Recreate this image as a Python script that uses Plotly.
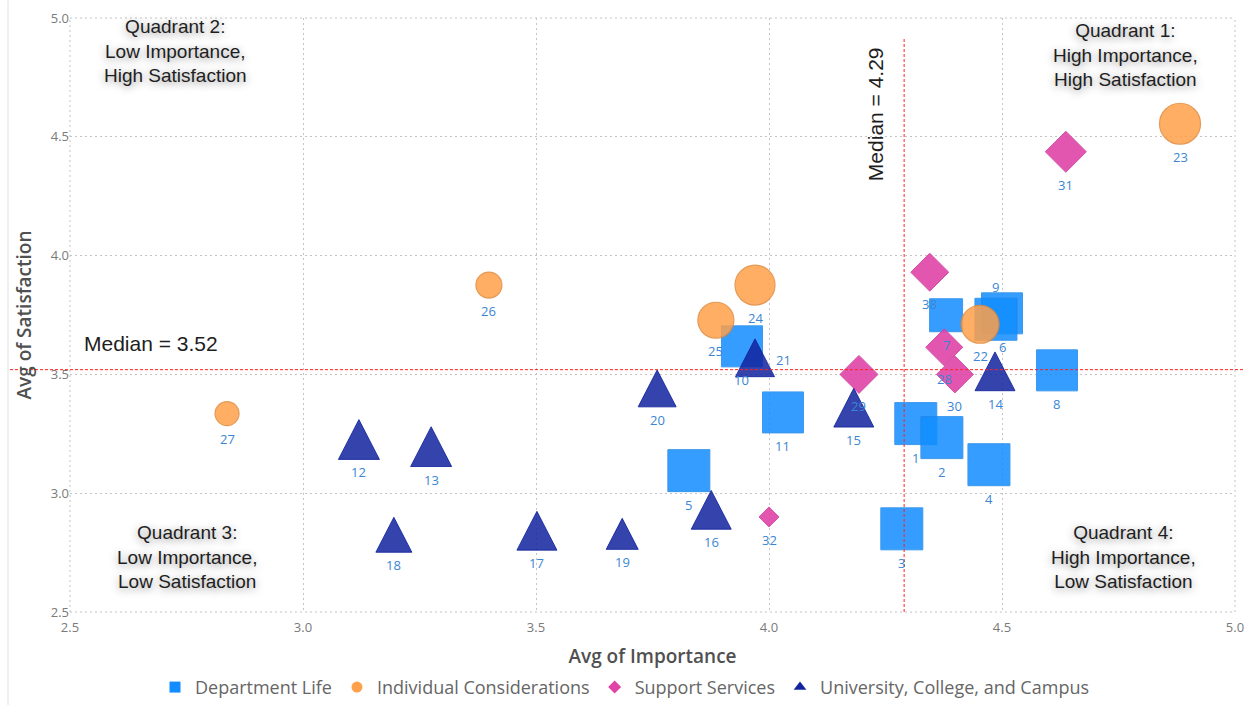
import plotly.graph_objects as go

# ---- survey items: average importance vs. average satisfaction ----
dept_ids = [1, 2, 3, 4, 5, 6, 7, 8, 9, 10, 11]
dept_imp = [4.315, 4.371, 4.285, 4.472, 3.828, 4.500, 4.380, 4.618, 4.487, 3.942, 4.030]
dept_sat = [3.293, 3.234, 2.850, 3.120, 3.095, 3.757, 3.749, 3.517, 3.732, 3.618, 3.340]

indiv_ids = [22, 23, 24, 25, 26, 27]
indiv_imp = [4.453, 4.882, 3.970, 3.886, 3.399, 2.837]
indiv_sat = [3.711, 4.555, 3.876, 3.728, 3.876, 3.335]

supp_ids = [28, 29, 30, 31, 32, 38]
supp_imp = [4.376, 4.193, 4.399, 4.637, 4.000, 4.345]
supp_sat = [3.614, 3.500, 3.500, 4.437, 2.900, 3.930]

univ_ids = [12, 13, 14, 15, 16, 17, 18, 19, 20, 21]
univ_imp = [3.120, 3.275, 4.485, 4.182, 3.876, 3.502, 3.195, 3.685, 3.760, 3.970]
univ_sat = [3.226, 3.196, 3.513, 3.360, 2.930, 2.842, 2.825, 2.829, 3.441, 3.570]

categories = ["Department Life", "Individual Considerations",
              "Support Services", "University, College, and Campus"]

median_importance = 4.29
median_satisfaction = 3.52

x_ticks = [2.5, 3.0, 3.5, 4.0, 4.5, 5.0]
y_ticks = [2.5, 3.0, 3.5, 4.0, 4.5, 5.0]

# ---- styling (marker sizes in screen pixels, colors, layout) ----
dept_px = [42, 42, 42, 42, 42, 41, 33, 41, 42, 41, 41]
indiv_px = [38, 41, 40, 36, 26, 24]
supp_px = [37, 38, 37, 41, 20, 38]          # diamond width
univ_px = [41, 41, 40, 40, 40, 40, 36, 32, 38, 39]

colors = {
    "Department Life": "#118DFF",
    "Individual Considerations": "#FFA04A",
    "Support Services": "#E044A7",
    "University, College, and Campus": "#12239E",
}
symbols = {
    "Department Life": "square",
    "Individual Considerations": "circle",
    "Support Services": "diamond",
    "University, College, and Campus": "triangle-up",
}

W, H = 1250, 705
M_L, M_R, M_T, M_B = 70, 15, 18, 93
X_RANGE = [2.5, 5.0]
Y_RANGE = [2.5, 5.0]
px_per_x = (W - M_L - M_R) / (X_RANGE[1] - X_RANGE[0])
px_per_y = (H - M_T - M_B) / (Y_RANGE[1] - Y_RANGE[0])

UI_FONT = "Segoe UI, Open Sans, sans-serif"
LABEL_COLOR = "#3A86D4"
GRID_COLOR = "#C4C4C4"
GRID_DASH = "2px,3px"

fig = go.Figure()

# squares
fig.add_trace(go.Scatter(
    x=dept_imp, y=dept_sat, mode="markers", showlegend=False,
    marker=dict(symbol="square", size=dept_px, color=colors[categories[0]],
                opacity=0.85, line=dict(color="#1C86E8", width=1)),
    hoverinfo="skip"))

# circles
fig.add_trace(go.Scatter(
    x=indiv_imp, y=indiv_sat, mode="markers", showlegend=False,
    marker=dict(symbol="circle", size=indiv_px, color=colors[categories[1]],
                opacity=0.85, line=dict(color="#E0893A", width=1.2)),
    hoverinfo="skip"))

# diamonds (plotly diamond width = 1.3 * size)
fig.add_trace(go.Scatter(
    x=supp_imp, y=supp_sat, mode="markers", showlegend=False,
    marker=dict(symbol="diamond", size=[w / 1.3 for w in supp_px],
                color=colors[categories[2]], opacity=0.9,
                line=dict(color="#D040A0", width=1)),
    hoverinfo="skip"))

# triangles drawn as filled polygons so that height ~ width
tx, ty = [], []
for xi, yi, s in zip(univ_imp, univ_sat, univ_px):
    hw = s / 2 / px_per_x
    hh = s * 0.97 / 2 / px_per_y
    tx += [xi - hw, xi + hw, xi, xi - hw, None]
    ty += [yi - hh, yi - hh, yi + hh, yi - hh, None]
fig.add_trace(go.Scatter(
    x=tx, y=ty, mode="lines", fill="toself", showlegend=False,
    fillcolor="rgba(18,35,158,0.85)",
    line=dict(color="rgba(18,35,158,0.85)", width=1), hoverinfo="skip"))

# legend entries
for cat in categories:
    fig.add_trace(go.Scatter(
        x=[None], y=[None], mode="markers", name=cat,
        marker=dict(symbol=symbols[cat], size=11 if cat != categories[2] else 10,
                    color=colors[cat])))

annotations = []

# data labels (below each mark, except where they would collide)
def add_labels(ids, xs, ys, half_heights):
    for i, xv, yv, hh in zip(ids, xs, ys, half_heights):
        xshift, yshift = 0, -(hh + 13)
        if i == 9:
            yshift = hh + 11
        if i == 21:
            xshift, yshift = 28, -2
        annotations.append(dict(
            x=xv, y=yv, text=str(i), showarrow=False, xshift=xshift, yshift=yshift,
            xanchor="center", yanchor="middle",
            font=dict(family=UI_FONT, size=13, color=LABEL_COLOR)))

add_labels(dept_ids, dept_imp, dept_sat, [s / 2 for s in dept_px])
add_labels(indiv_ids, indiv_imp, indiv_sat, [s / 2 for s in indiv_px])
add_labels(supp_ids, supp_imp, supp_sat, [s / 2 for s in supp_px])
add_labels(univ_ids, univ_imp, univ_sat, [s * 0.97 / 2 for s in univ_px])

# quadrant captions
quad_font = dict(family="Liberation Sans, Arial, sans-serif", size=19, color="#1E1E1E",
                 shadow="0px 2px 8px rgba(0,0,0,0.45)")
quadrants = [
    (2.727, 4.861, "Quadrant 2:<br>Low Importance,<br>High Satisfaction"),
    (4.764, 4.844, "Quadrant 1:<br>High Importance,<br>High Satisfaction"),
    (2.751, 2.731, "Quadrant 3:<br>Low Importance,<br>Low Satisfaction"),
    (4.760, 2.731, "Quadrant 4:<br>High Importance,<br>Low Satisfaction"),
]
for qx, qy, qt in quadrants:
    annotations.append(dict(x=qx, y=qy, text=qt, showarrow=False, align="center",
                            xanchor="center", yanchor="middle", font=quad_font))

median_font = dict(family="Liberation Sans, Arial, sans-serif", size=21, color="#1E1E1E")
annotations.append(dict(x=2.674, y=3.628, text=f"Median = {median_satisfaction:.2f}",
                        showarrow=False, xanchor="center", yanchor="middle",
                        font=median_font))
annotations.append(dict(x=median_importance, y=4.596, xshift=-28,
                        text=f"Median = {median_importance:.2f}",
                        showarrow=False, textangle=-90, xanchor="center",
                        yanchor="middle", font=median_font))

# plot-area edges drawn as dotted gridlines
edge = dict(color=GRID_COLOR, width=1, dash=GRID_DASH)
shapes = [
    dict(type="line", xref="paper", yref="paper", x0=0, x1=1, y0=0, y1=0, line=edge, layer="below"),
    dict(type="line", xref="paper", yref="paper", x0=0, x1=1, y0=1, y1=1, line=edge, layer="below"),
    dict(type="line", xref="paper", yref="paper", x0=0, x1=0, y0=0, y1=1, line=edge, layer="below"),
    dict(type="line", xref="paper", yref="paper", x0=1, x1=1, y0=0, y1=1, line=edge, layer="below"),
]
# median reference lines
shapes += [
    dict(type="line", xref="paper", yref="y", x0=-0.0515, x1=1.0086,
         y0=median_satisfaction, y1=median_satisfaction,
         line=dict(color="#FF2020", width=1, dash="3px,2px")),
    dict(type="line", xref="x", yref="paper", x0=median_importance, x1=median_importance,
         y0=0, y1=0.968, line=dict(color="#FF2020", width=1, dash="3px,2px")),
    # visual frame edge
    dict(type="line", xref="paper", yref="paper", x0=-0.0532, x1=-0.0532,
         y0=-0.157, y1=1.03, line=dict(color="#E3E3E3", width=1)),
]

grid = dict(showgrid=True, gridcolor=GRID_COLOR, gridwidth=1, griddash=GRID_DASH,
            zeroline=False, showline=False, ticks="", automargin=False,
            tickfont=dict(family=UI_FONT, size=13, color="#7A7A7A"))

fig.update_layout(
    width=W, height=H, autosize=False,
    margin=dict(l=M_L, r=M_R, t=M_T, b=M_B),
    paper_bgcolor="white", plot_bgcolor="white",
    xaxis=dict(range=X_RANGE, tickvals=x_ticks, tickformat=".1f", ticklabelstandoff=6,
               title=dict(text="Avg of Importance", standoff=14,
                          font=dict(family=UI_FONT, size=19, color="#505050",
                                    weight=600)),
               **grid),
    yaxis=dict(range=Y_RANGE, tickvals=y_ticks, tickformat=".1f",
               title=dict(text="Avg of Satisfaction", standoff=14,
                          font=dict(family=UI_FONT, size=19, color="#505050",
                                    weight=600)),
               **grid),
    legend=dict(orientation="h", xref="container", yref="container",
                x=0.5, xanchor="center", y=0.025, yanchor="middle",
                itemwidth=30, tracegroupgap=0,
                font=dict(family=UI_FONT, size=18, color="#666666")),
    annotations=annotations,
    shapes=shapes,
)

fig.write_html("out.html")
